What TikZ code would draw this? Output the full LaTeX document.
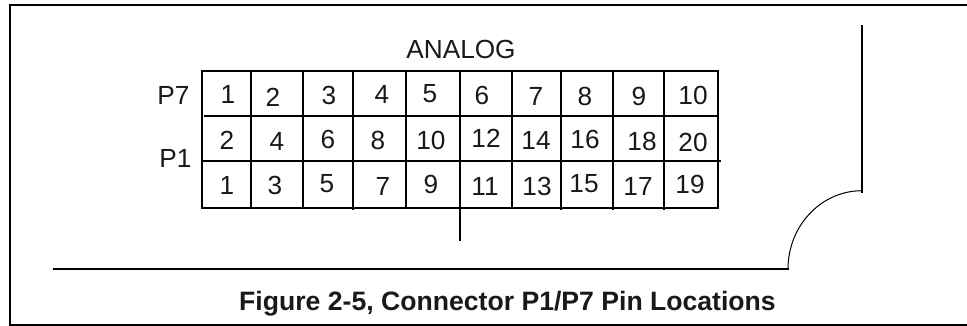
\documentclass[tikz,border=0pt]{standalone}
\usepackage{fontspec}
\setmainfont{Liberation Sans}
\tikzset{
  frameline/.style={line width=2pt,line cap=butt},
  gridline/.style={line width=1.3pt},
  pinlabel/.style={font=\fontsize{26.2}{30}\selectfont,inner sep=0pt,anchor=center,text=black!90},
  captext/.style={font=\bfseries\fontsize{26.6}{30}\selectfont,inner sep=0pt,anchor=center,text=black!90}
}
\begin{document}
\begin{tikzpicture}[x=1pt,y=-1pt]
\useasboundingbox (0,0) rectangle (967,326);
\fill[white] (0,0) rectangle (967,326);
\draw[frameline] (967,5) -- (10,5) -- (10,324.7) -- (967,324.7);
% grid
\draw[gridline] (202,71) rectangle (718,208);
\draw[gridline] (204,116) -- (718,116);
\draw[gridline] (202,161) -- (721,161);
\foreach \x/\e in {251/0,303/0,353/1,406/0,460/0,512/0,561/1,613/1,664/1}{
  \draw[gridline] (\x,71) -- (\x,{208+\e*1.5});
}
\coordinate (stemtop) at (460,208);
\coordinate (stemend) at (460,241);
\draw[gridline] (stemtop) -- (stemend);
% outline
\draw[frameline] (53,269) -- (789,269);
\draw[line width=1pt] (788,269) arc[start angle=180,end angle=270,x radius=74,y radius=78.3];
\draw[frameline] (862,25) -- (862,193.5);
\foreach \t/\x/\y in {1/228/94,2/273/97,3/329/95,4/382/94,5/430/94,6/482/95,7/536/96,8/585/96,9/639/96,10/693/95,
 2/227/140,4/277/141,6/328/139,8/378/140,10/431/140,12/486/138,14/536/140,16/585/139,18/642/141,20/693/142,
 1/227/185,3/275/185,5/327/184,7/383/186,9/431/184,11/485/186,13/537/186,15/584/184,17/638/186,19/690/184}{
  \node[pinlabel] at (\x,\y) {\t};
}
\node[pinlabel] (analog) at (461,49) {ANALOG};
\node[pinlabel] (pseven) at (173.5,95) {P7};
\node[pinlabel] (pone) at (175.5,158) {P1};
\node[captext] (caption) at (507.5,303.5) {Figure 2-5, Connector P1/P7 Pin Locations};
\end{tikzpicture}
\end{document}
